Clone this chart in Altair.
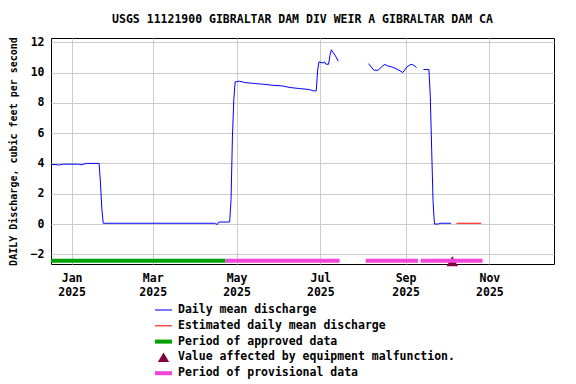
import altair as alt
import pandas as pd

TITLE = "USGS 11121900 GIBRALTAR DAM DIV WEIR A GIBRALTAR DAM CA"
Y_TITLE = "DAILY Discharge, cubic feet per second"

# Daily mean discharge (segment, date, value)
dm_segment = (["a"] * 41) + (["b"] * 15) + (["c"] * 9)
dm_dates = [
    "2024-12-17", "2024-12-23", "2024-12-26", "2025-01-06", "2025-01-08", "2025-01-10",
    "2025-01-12", "2025-01-21", "2025-01-22", "2025-01-23", "2025-01-24", "2025-04-15",
    "2025-04-17", "2025-04-18", "2025-04-26", "2025-04-27", "2025-04-28", "2025-04-29",
    "2025-04-30", "2025-05-03", "2025-05-07", "2025-05-14", "2025-05-20", "2025-05-27",
    "2025-06-03", "2025-06-09", "2025-06-16", "2025-06-23", "2025-06-26", "2025-06-28",
    "2025-06-29", "2025-06-30", "2025-07-03", "2025-07-04", "2025-07-05", "2025-07-07",
    "2025-07-08", "2025-07-09", "2025-07-10", "2025-07-12", "2025-07-14",
    "2025-08-05", "2025-08-07", "2025-08-09", "2025-08-12", "2025-08-15", "2025-08-17",
    "2025-08-19", "2025-08-22", "2025-08-25", "2025-08-28", "2025-08-30", "2025-09-02",
    "2025-09-05", "2025-09-07", "2025-09-09",
    "2025-09-14", "2025-09-18", "2025-09-19", "2025-09-20", "2025-09-21", "2025-09-22",
    "2025-09-25", "2025-09-26", "2025-10-04",
]
dm_values = [
    3.94, 3.90, 3.95, 3.95, 3.91, 3.96,
    4.00, 4.00, 2.70, 1.00, 0.05, 0.05,
    -0.03, 0.13, 0.13, 1.60, 5.70, 8.20,
    9.38, 9.43, 9.34, 9.28, 9.23, 9.16,
    9.12, 9.01, 8.94, 8.88, 8.79, 8.79,
    10.15, 10.70, 10.63, 10.70, 10.55, 10.55,
    11.14, 11.50, 11.36, 11.10, 10.75,
    10.59, 10.37, 10.15, 10.15, 10.42, 10.53,
    10.44, 10.37, 10.26, 10.11, 10.00, 10.37,
    10.55, 10.48, 10.33,
    10.20, 10.20, 8.40, 4.90, 1.50, 0.00,
    0.00, 0.05, 0.05,
]

# Estimated daily mean discharge
est_dates = ["2025-10-08", "2025-10-26"]
est_values = [0.05, 0.05]

# Approval periods
period_kind = ["approved", "provisional", "provisional", "provisional"]
period_start = ["2024-12-17", "2025-04-23", "2025-08-03", "2025-09-12"]
period_end = ["2025-04-23", "2025-07-15", "2025-09-10", "2025-10-27"]
period_level = [-2.43, -2.43, -2.43, -2.43]

# Equipment malfunction marker
mal_dates = ["2025-10-05"]
mal_values = [-2.46]

legend_labels = [
    "Daily mean discharge",
    "Estimated daily mean discharge",
    "Period of approved data",
    "Value affected by equipment malfunction.",
    "Period of provisional data",
]
legend_colors = ["#0000ff", "#ff0000", "#00a000", "#800040", "#f046dc"]
thin = "M-1.13,-0.07L1.13,-0.07L1.13,0.07L-1.13,0.07Z"
thick = "M-1.13,-0.27L1.13,-0.27L1.13,0.27L-1.13,0.27Z"
tri = "M0,-0.65L0.75,0.6L-0.75,0.6Z"
legend_shapes = [thin, thin, thick, tri, thick]

y_ticks = [-2, 0, 2, 4, 6, 8, 10, 12]
x_tick_months = [1, 3, 5, 7, 9, 11]

FONT = "DejaVu Sans Mono"

dm_df = pd.DataFrame({"segment": dm_segment, "date": dm_dates, "value": dm_values})
est_df = pd.DataFrame({"date": est_dates, "value": est_values})
per_df = pd.DataFrame({"kind": period_kind, "start": period_start, "end": period_end, "level": period_level})
mal_df = pd.DataFrame({"date": mal_dates, "value": mal_values})
leg_df = pd.DataFrame({"series": legend_labels, "date": ["2025-06-01"] * 5, "value": [-50] * 5})

x_scale = alt.Scale(
    type="utc",
    domain=[alt.DateTime(year=2024, month=12, date=17, utc=True),
            alt.DateTime(year=2025, month=12, date=18, utc=True)],
)
y_scale = alt.Scale(domain=[-2.64, 12.28], nice=False, zero=False)

x_axis = alt.Axis(
    values=[alt.DateTime(year=2025, month=m, date=1, utc=True) for m in x_tick_months],
    labelExpr="[utcFormat(datum.value, '%b'), utcFormat(datum.value, '%Y')]",
    title=None, ticks=False, domain=False, labelPadding=8.5, labelLineHeight=14,
)
y_axis = alt.Axis(values=y_ticks, title=Y_TITLE, ticks=False, domain=False,
                  labelPadding=7, titlePadding=11.5)

X = lambda f: alt.X(f, scale=x_scale, axis=x_axis)
Y = lambda f: alt.Y(f, scale=y_scale, axis=y_axis)

line_dm = alt.Chart(dm_df).mark_line(color="#0000ff", strokeWidth=1, clip=True).encode(
    x=X("date:T"), y=Y("value:Q"), detail="segment:N"
)
line_est = alt.Chart(est_df).mark_line(color="#ff0000", strokeWidth=1, clip=True).encode(
    x=X("date:T"), y=Y("value:Q")
)
mal = alt.Chart(mal_df).mark_point(shape="triangle-up", filled=True, size=130,
                                   color="#800040", opacity=1).encode(
    x=X("date:T"), y=Y("value:Q")
)
per_colors = alt.Scale(domain=["approved", "provisional"], range=["#00a000", "#f046dc"])
periods = alt.Chart(per_df).mark_rule(strokeWidth=4, clip=True).encode(
    x=X("start:T"), x2="end:T", y=Y("level:Q"),
    stroke=alt.Stroke("kind:N", scale=per_colors, legend=None),
)

leg = alt.Legend(
    title=None, orient="none", legendX=105, legendY=264.5, padding=0,
    labelFont=FONT, labelFontSize=11.5, labelFontWeight="bold", labelColor="black",
    symbolSize=225, labelOffset=7, rowPadding=2.8, symbolStrokeWidth=0,
    labelLimit=600,
)
legend_layer = alt.Chart(leg_df).mark_point(filled=True, clip=True, opacity=1).encode(
    x=X("date:T"), y=Y("value:Q"),
    color=alt.Color("series:N", scale=alt.Scale(domain=legend_labels, range=legend_colors), legend=leg),
    shape=alt.Shape("series:N", scale=alt.Scale(domain=legend_labels, range=legend_shapes), legend=leg),
)

chart = alt.layer(mal, periods, line_dm, line_est, legend_layer).properties(
    width=503, height=226,
    title=alt.Title(TITLE, font=FONT, fontSize=11.5, fontWeight="bold", anchor="middle",
                    offset=11, color="black"),
    padding={"left": 43, "top": 30, "right": 14, "bottom": 115},
    autosize=alt.AutoSizeParams(type="none"),
).configure_view(stroke="black", strokeWidth=1).configure_axis(
    labelFont=FONT, labelFontSize=11.5, labelFontWeight="bold", labelColor="black",
    titleFont=FONT, titleFontSize=10, titleFontWeight="bold", titleColor="black",
    gridColor="#cccccc", gridWidth=1,
)

chart.save("out.html", embed_options={"renderer": "svg", "actions": False})
